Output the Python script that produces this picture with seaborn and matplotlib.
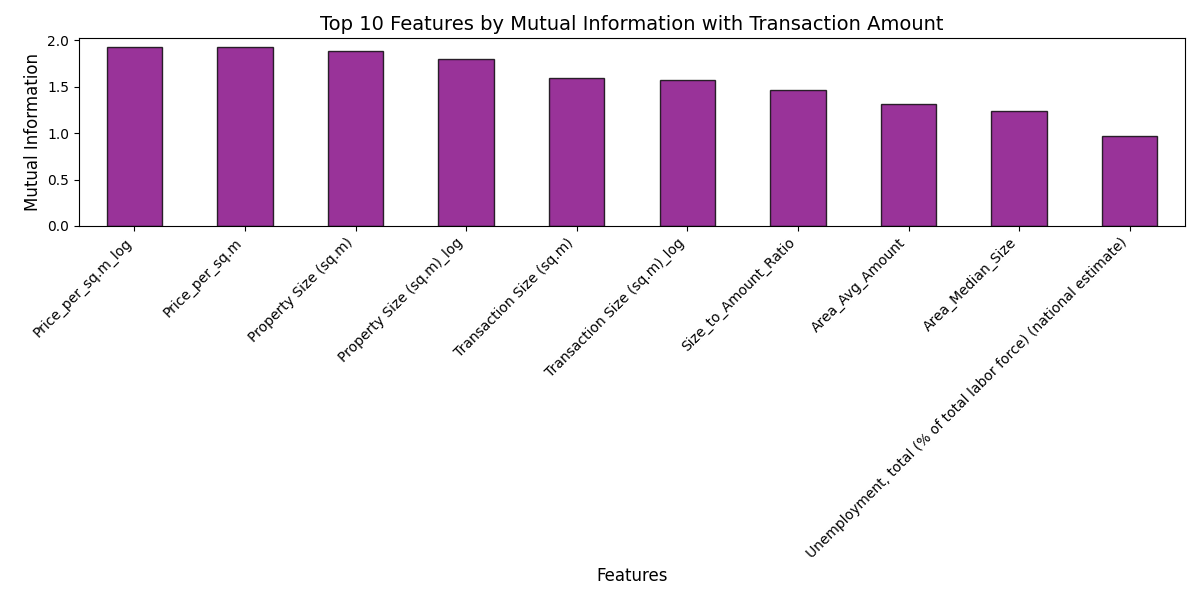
import matplotlib
matplotlib.use("Agg")
import matplotlib.pyplot as plt
import seaborn as sns
import pandas as pd

features = [
    "Price_per_sq.m_log",
    "Price_per_sq.m",
    "Property Size (sq.m)",
    "Property Size (sq.m)_log",
    "Transaction Size (sq.m)",
    "Transaction Size (sq.m)_log",
    "Size_to_Amount_Ratio",
    "Area_Avg_Amount",
    "Area_Median_Size",
    "Unemployment, total (% of total labor force) (national estimate)",
]
mi_values = [1.925, 1.925, 1.88, 1.80, 1.59, 1.57, 1.46, 1.31, 1.24, 0.97]

df = pd.DataFrame({"Feature": features, "MI": mi_values})

fig, ax = plt.subplots(figsize=(12, 6), dpi=100)
sns.barplot(data=df, x="Feature", y="MI", ax=ax, color="purple", alpha=0.8,
            edgecolor="black", linewidth=1, width=0.5, saturation=1)
ax.set_xlim(-0.5, len(features) - 0.5)
ax.set_title("Top 10 Features by Mutual Information with Transaction Amount", fontsize=14)
ax.set_xlabel("Features", fontsize=12)
ax.set_ylabel("Mutual Information", fontsize=12)
plt.setp(ax.get_xticklabels(), rotation=45, ha="right")
plt.tight_layout()
fig.savefig("out.png", dpi=100)
